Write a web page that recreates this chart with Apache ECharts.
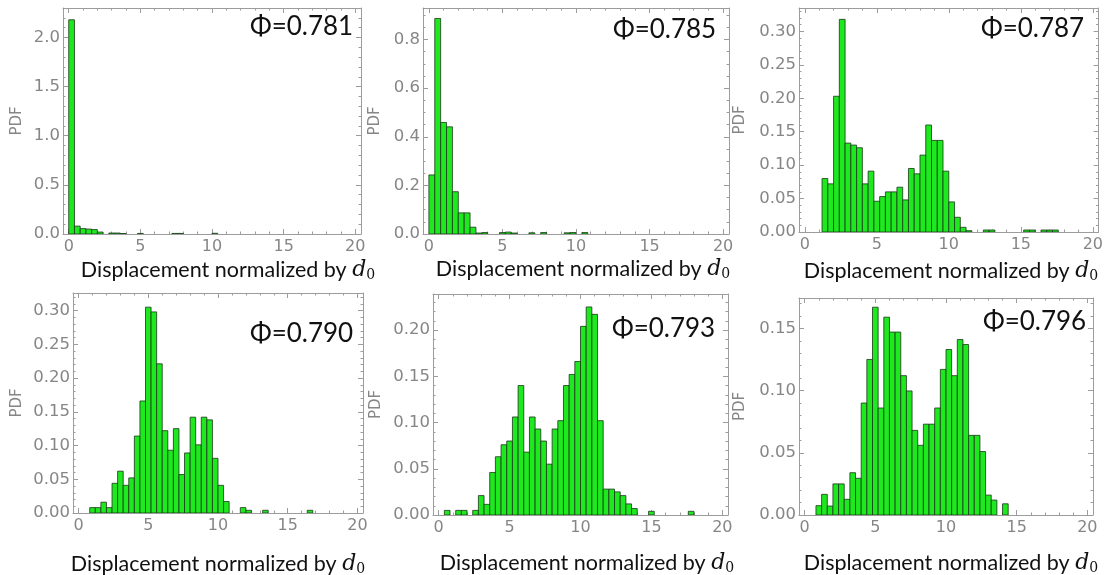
<!DOCTYPE html>
<html><head><meta charset="utf-8">
<script src="https://cdn.jsdelivr.net/npm/echarts@6/dist/echarts.min.js"></script>
<style>html,body{margin:0;padding:0;background:#fff}#c{width:1106px;height:575px}</style>
</head><body><div id="c"></div>
<script>
// ---------------- data ----------------
const phiLabels = ['Φ=0.781', 'Φ=0.785', 'Φ=0.787', 'Φ=0.790', 'Φ=0.793', 'Φ=0.796'];
const xAxisTitle = 'Displacement normalized by ';
const binWidth = 0.4;
const binStarts = [0, 0, 1.2, 0.8, 0, 0.8];

const pdf0781 = [2.18, 0.08, 0.055, 0.05, 0.045, 0.02, 0, 0.01, 0.01, 0.005, 0, 0, 0.006, 0, 0, 0, 0, 0, 0.006, 0.006, 0, 0, 0, 0, 0, 0.007];
const pdf0785 = [0.243, 0.887, 0.459, 0.441, 0.174, 0.087, 0.087, 0.028, 0.004, 0.006, 0, 0, 0.006, 0.008, 0.004, 0, 0, 0.005, 0, 0.006, 0, 0, 0, 0.005, 0.006, 0, 0.006];
const pdf0787 = [0.080, 0.072, 0.203, 0.318, 0.133, 0.130, 0.126, 0.072, 0.091, 0.046, 0.053, 0.060, 0.060, 0.067, 0.048, 0.095, 0.087, 0.115, 0.160, 0.137, 0.137, 0.091, 0.045, 0.022, 0.007, 0.002, 0, 0, 0.003, 0.003, 0, 0, 0, 0, 0, 0.003, 0.003, 0, 0.003, 0.003, 0.003];
const pdf0790 = [0.008, 0.008, 0.016, 0.008, 0.044, 0.062, 0.041, 0.052, 0.114, 0.166, 0.305, 0.298, 0.221, 0.122, 0.093, 0.125, 0.057, 0.089, 0.142, 0.101, 0.142, 0.138, 0.081, 0.041, 0.017, 0, 0, 0.008, 0.004, 0, 0, 0.004, 0, 0, 0, 0, 0, 0, 0, 0.004];
const pdf0793 = [0, 0.005, 0, 0.005, 0.005, 0, 0.005, 0.021, 0.0115, 0.046, 0.063, 0.076, 0.080, 0.106, 0.140, 0.068, 0.106, 0.093, 0.080, 0.055, 0.093, 0.102, 0.140, 0.152, 0.166, 0.204, 0.225, 0.217, 0.102, 0.028, 0.028, 0.025, 0.021, 0.012, 0.007, 0, 0, 0.004, 0, 0, 0, 0, 0, 0, 0.004];
const pdf0796 = [0.0075, 0.0166, 0.0072, 0.025, 0.025, 0.0126, 0.034, 0.0295, 0.090, 0.125, 0.167, 0.086, 0.159, 0.147, 0.147, 0.112, 0.0997, 0.068, 0.056, 0.073, 0.073, 0.086, 0.117, 0.133, 0.112, 0.141, 0.137, 0.064, 0.064, 0.051, 0.016, 0.012, 0, 0.009];
const pdfSeries = [pdf0781, pdf0785, pdf0787, pdf0790, pdf0793, pdf0796];

const xMajorTicks = [0, 5, 10, 15, 20];
const yMajorTicks = [
  [0, 0.5, 1.0, 1.5, 2.0],
  [0, 0.2, 0.4, 0.6, 0.8],
  [0, 0.05, 0.10, 0.15, 0.20, 0.25, 0.30],
  [0, 0.05, 0.10, 0.15, 0.20, 0.25, 0.30],
  [0, 0.05, 0.10, 0.15, 0.20],
  [0, 0.05, 0.10, 0.15]
];
const yDecimals = [1, 1, 2, 2, 2, 2];
const yMinorStep = [0.1, 0.05, 0.01, 0.01, 0.01, 0.01];
const yMax = [2.30, 0.93, 0.335, 0.326, 0.239, 0.1744];

// ---------------- layout ----------------
const grids = [
  {left: 63, top: 8, width: 298, height: 226},
  {left: 423, top: 8, width: 306, height: 226},
  {left: 799, top: 8, width: 300, height: 224},
  {left: 73, top: 293, width: 290, height: 220},
  {left: 433, top: 294, width: 295, height: 221},
  {left: 799, top: 298, width: 294, height: 217}
];
const pdfGap = [38, 40, 51, 48, 49, 51];
const phiPos = [[250, 27], [613, 29.5], [981, 28.5], [250, 333.5], [612, 328.5], [983, 322]];
const titlePos = [[228, 270], [583, 269], [951, 271], [218, 564], [587, 563], [951, 563]];

const FRAME = '#9c9c9c', LABEL = '#868686';
const TICKFONT = 'DejaVu Sans';
const XMIN = -0.4, XMAX = 20.4;

function range(a, b, step) { const r = []; for (let v = a; v <= b + 1e-9; v += step) r.push(+v.toFixed(4)); return r; }
const xMinor = range(0, 20, 1);

const xAxes = [], yAxes = [], series = [], graphics = [];
grids.forEach((g, i) => {
  const common = {gridIndex: i, type: 'value', min: XMIN, max: XMAX, splitLine: {show: false}};
  xAxes.push(Object.assign({}, common, {position: 'bottom',
    axisLine: {show: true, onZero: false, lineStyle: {color: FRAME, width: 1}},
    axisTick: {show: true, inside: true, length: 5, customValues: xMajorTicks, lineStyle: {color: FRAME}},
    axisLabel: {show: true, customValues: xMajorTicks, margin: 5, color: LABEL, fontSize: 16, fontFamily: TICKFONT}}));
  xAxes.push(Object.assign({}, common, {position: 'bottom',
    axisLine: {show: false, onZero: false},
    axisTick: {show: true, inside: true, length: 2.5, customValues: xMinor, lineStyle: {color: FRAME}},
    axisLabel: {show: false}}));
  xAxes.push(Object.assign({}, common, {position: 'top',
    axisLine: {show: true, onZero: false, lineStyle: {color: FRAME, width: 1}},
    axisTick: {show: true, inside: true, length: 5, customValues: xMajorTicks, lineStyle: {color: FRAME}},
    axisLabel: {show: false}}));
  xAxes.push(Object.assign({}, common, {position: 'top',
    axisLine: {show: false, onZero: false},
    axisTick: {show: true, inside: true, length: 2.5, customValues: xMinor, lineStyle: {color: FRAME}},
    axisLabel: {show: false}}));

  const yc = {gridIndex: i, type: 'value', min: 0, max: yMax[i], splitLine: {show: false}};
  const yMinor = range(0, yMax[i], yMinorStep[i]);
  const dec = yDecimals[i];
  yAxes.push(Object.assign({}, yc, {position: 'left',
    name: 'PDF', nameLocation: 'middle', nameGap: pdfGap[i], nameRotate: 90,
    nameTextStyle: {color: LABEL, fontSize: 15, fontFamily: TICKFONT},
    axisLine: {show: true, onZero: false, lineStyle: {color: FRAME, width: 1}},
    axisTick: {show: true, inside: true, length: 5, customValues: yMajorTicks[i], lineStyle: {color: FRAME}},
    axisLabel: {show: true, customValues: yMajorTicks[i], margin: 3, color: LABEL, fontSize: 16.5, fontFamily: TICKFONT,
      formatter: v => Number(v).toFixed(dec)}}));
  yAxes.push(Object.assign({}, yc, {position: 'left',
    axisLine: {show: false, onZero: false},
    axisTick: {show: true, inside: true, length: 2.5, customValues: yMinor, lineStyle: {color: FRAME}},
    axisLabel: {show: false}}));
  yAxes.push(Object.assign({}, yc, {position: 'right',
    axisLine: {show: true, onZero: false, lineStyle: {color: FRAME, width: 1}},
    axisTick: {show: true, inside: true, length: 5, customValues: yMajorTicks[i], lineStyle: {color: FRAME}},
    axisLabel: {show: false}}));
  yAxes.push(Object.assign({}, yc, {position: 'right',
    axisLine: {show: false, onZero: false},
    axisTick: {show: true, inside: true, length: 2.5, customValues: yMinor, lineStyle: {color: FRAME}},
    axisLabel: {show: false}}));

  const data = pdfSeries[i].map((h, k) => {
    const x0 = +(binStarts[i] + k * binWidth).toFixed(3);
    return [x0, +(x0 + binWidth).toFixed(3), h];
  }).filter(d => d[2] > 0);
  series.push({
    type: 'custom', xAxisIndex: 4 * i, yAxisIndex: 4 * i, clip: true,
    encode: {x: [0, 1], y: 2},
    data: data,
    renderItem: function (params, api) {
      const p0 = api.coord([api.value(0), api.value(2)]);
      const p1 = api.coord([api.value(1), 0]);
      return {type: 'rect', shape: {x: p0[0], y: p0[1], width: p1[0] - p0[0], height: p1[1] - p0[1]},
        style: {fill: '#1ee81e', stroke: '#1b361b', lineWidth: 0.8}};
    }
  });

  graphics.push({type: 'text', x: phiPos[i][0], y: phiPos[i][1],
    style: {text: phiLabels[i], font: '26px Lato, "Open Sans", sans-serif', fill: '#111', textAlign: 'left', textVerticalAlign: 'middle'}});
  graphics.push({type: 'text', x: titlePos[i][0], y: titlePos[i][1],
    style: {text: xAxisTitle + '{d|d}{s|0}', font: '21.5px Lato, "Open Sans", sans-serif', fill: '#111', textAlign: 'center', textVerticalAlign: 'middle',
      rich: {d: {fontStyle: 'italic', fontFamily: 'DejaVu Serif', fontSize: 22, fill: '#111'},
             s: {fontFamily: 'DejaVu Serif', fontSize: 14, fill: '#111', padding: [10, 0, 0, 0]}}}});
});

const chart = echarts.init(document.getElementById('c'), null, {renderer: 'canvas'});
chart.setOption({
  animation: false,
  backgroundColor: '#fff',
  grid: grids.map(g => Object.assign({containLabel: false, show: false}, g)),
  xAxis: xAxes,
  yAxis: yAxes,
  series: series,
  graphic: graphics
});
</script></body></html>
